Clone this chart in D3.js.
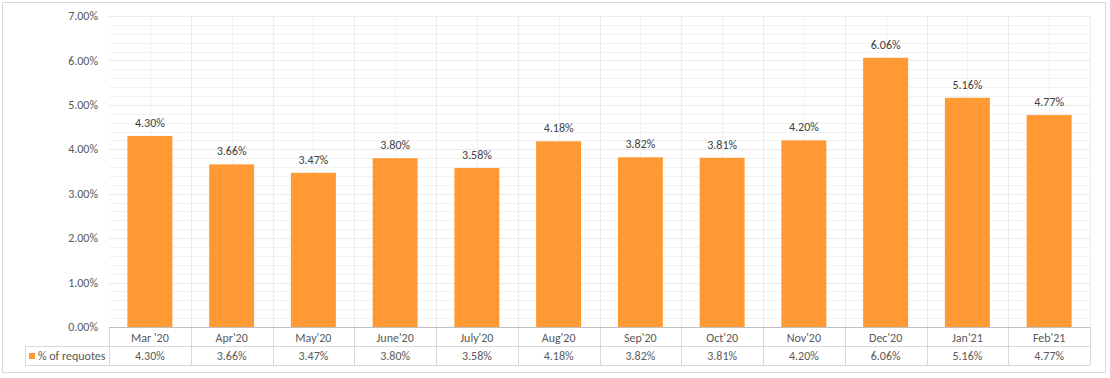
<!DOCTYPE html>
<html lang="en">
<head>
    <meta charset="UTF-8">
    <title>% of requotes</title>
    <script src="https://d3js.org/d3.v7.min.js"></script>
    <style>
        body{ margin: 0; background: #fff; }
        svg{ display: block; }
        text{
            font-family: Calibri, Carlito, "Liberation Sans", sans-serif;
            font-size: 12px;
            fill: #595959;
        }
    </style>
</head>
<body>
<script>
    const width = 1110
    const height = 378

    // data
    const months = ["Mar '20","Apr'20","May'20","June'20","July'20","Aug'20","Sep'20","Oct'20","Nov'20","Dec'20","Jan'21","Feb'21"]
    const requotes = [4.30, 3.66, 3.47, 3.80, 3.58, 4.18, 3.82, 3.81, 4.20, 6.06, 5.16, 4.77]
    const yTicks = [0, 1, 2, 3, 4, 5, 6, 7]
    const seriesName = "% of requotes"

    const plot = {left: 109, right: 1090, top: 16, bottom: 327}
    const rowH = 19

    let svg = d3.select("body").append("svg")
                .attr("width", width).attr("height", height)

    // outer chart border
    svg.append("rect").attr("x", 2.5).attr("y", 2.5)
        .attr("width", 1103).attr("height", 370)
        .attr("fill", "none").attr("stroke", "#d9d9d9")

    const x = d3.scaleBand().domain(months)
                .range([plot.left, plot.right])
                .paddingInner(0.45).paddingOuter(0.225)
    const xCell = d3.scaleBand().domain(months).range([plot.left, plot.right])
    const y = d3.scaleLinear().domain([0, 7]).range([plot.bottom, plot.top])

    let grid = svg.append("g")
    // minor horizontal grid every 0.2%
    grid.selectAll(".minor").data(d3.range(0, 7.01, 0.2))
        .enter().append("line")
        .attr("x1", plot.left).attr("x2", plot.right)
        .attr("y1", d => Math.round(y(d)) + 0.5).attr("y2", d => Math.round(y(d)) + 0.5)
        .attr("stroke", "#f2f2f2")
    // vertical grid: category centers and boundaries
    grid.selectAll(".vc").data(months)
        .enter().append("line")
        .attr("x1", d => Math.round(xCell(d) + xCell.bandwidth()/2) + 0.5)
        .attr("x2", d => Math.round(xCell(d) + xCell.bandwidth()/2) + 0.5)
        .attr("y1", plot.top).attr("y2", plot.bottom)
        .attr("stroke", "#f2f2f2")
    grid.selectAll(".vb").data(months)
        .enter().append("line")
        .attr("x1", d => Math.round(xCell(d) + xCell.bandwidth()) + 0.5)
        .attr("x2", d => Math.round(xCell(d) + xCell.bandwidth()) + 0.5)
        .attr("y1", plot.top).attr("y2", plot.bottom)
        .attr("stroke", "#ececec")
    // major horizontal grid
    grid.selectAll(".major").data(yTicks)
        .enter().append("line")
        .attr("x1", plot.left).attr("x2", plot.right)
        .attr("y1", d => Math.round(y(d)) + 0.5).attr("y2", d => Math.round(y(d)) + 0.5)
        .attr("stroke", "#ebebeb")

    // y axis labels
    svg.append("g").selectAll("text").data(yTicks)
        .enter().append("text")
        .attr("x", 98).attr("y", d => y(d))
        .attr("dy", "0.35em")
        .attr("text-anchor", "end")
        .text(d => d.toFixed(2) + "%")

    // bars
    svg.append("g").selectAll("rect").data(requotes)
        .enter().append("rect")
        .attr("x", (d, i) => x(months[i]))
        .attr("width", x.bandwidth())
        .attr("y", d => y(d))
        .attr("height", d => y(0) - y(d))
        .attr("fill", "#ff9933")

    // value labels
    svg.append("g").selectAll("text").data(requotes)
        .enter().append("text")
        .attr("x", (d, i) => x(months[i]) + x.bandwidth()/2)
        .attr("y", d => y(d) - 9)
        .attr("text-anchor", "middle")
        .attr("fill", "#404040")
        .style("fill", "#404040")
        .text(d => d.toFixed(2) + "%")

    // data table
    let table = svg.append("g")
    const tTop = plot.bottom, tMid = plot.bottom + rowH, tBot = plot.bottom + 2*rowH
    const tLeft = 25
    table.append("line").attr("x1", tLeft).attr("x2", plot.right)
        .attr("y1", tMid + 0.5).attr("y2", tMid + 0.5).attr("stroke", "#d9d9d9")
    table.append("line").attr("x1", tLeft).attr("x2", plot.right)
        .attr("y1", tBot + 0.5).attr("y2", tBot + 0.5).attr("stroke", "#d9d9d9")
    table.append("line").attr("x1", tLeft + 0.5).attr("x2", tLeft + 0.5)
        .attr("y1", tMid).attr("y2", tBot).attr("stroke", "#d9d9d9")
    table.append("line").attr("x1", plot.left + 0.5).attr("x2", plot.left + 0.5)
        .attr("y1", tTop).attr("y2", tBot).attr("stroke", "#d9d9d9")
    table.selectAll(".sep").data(months)
        .enter().append("line")
        .attr("x1", d => Math.round(xCell(d) + xCell.bandwidth()) + 0.5)
        .attr("x2", d => Math.round(xCell(d) + xCell.bandwidth()) + 0.5)
        .attr("y1", tTop).attr("y2", tBot)
        .attr("stroke", "#d9d9d9")
    // axis line
    table.append("line").attr("x1", plot.left).attr("x2", plot.right)
        .attr("y1", tTop + 0.5).attr("y2", tTop + 0.5).attr("stroke", "#bfbfbf")

    table.selectAll(".cat").data(months)
        .enter().append("text")
        .attr("x", d => xCell(d) + xCell.bandwidth()/2)
        .attr("y", tTop + rowH/2 + 1).attr("dy", "0.35em")
        .attr("text-anchor", "middle")
        .text(d => d)
    table.selectAll(".val").data(requotes)
        .enter().append("text")
        .attr("x", (d, i) => xCell(months[i]) + xCell.bandwidth()/2)
        .attr("y", tMid + rowH/2 + 0.5).attr("dy", "0.35em")
        .attr("text-anchor", "middle")
        .text(d => d.toFixed(2) + "%")

    // legend key in the table
    table.append("rect").attr("x", 29).attr("y", 353)
        .attr("width", 6).attr("height", 6).attr("fill", "#ff9933")
    table.append("text").attr("x", 38).attr("y", tMid + rowH/2 + 0.5)
        .attr("dy", "0.35em").text(seriesName)
</script>
</body>
</html>
